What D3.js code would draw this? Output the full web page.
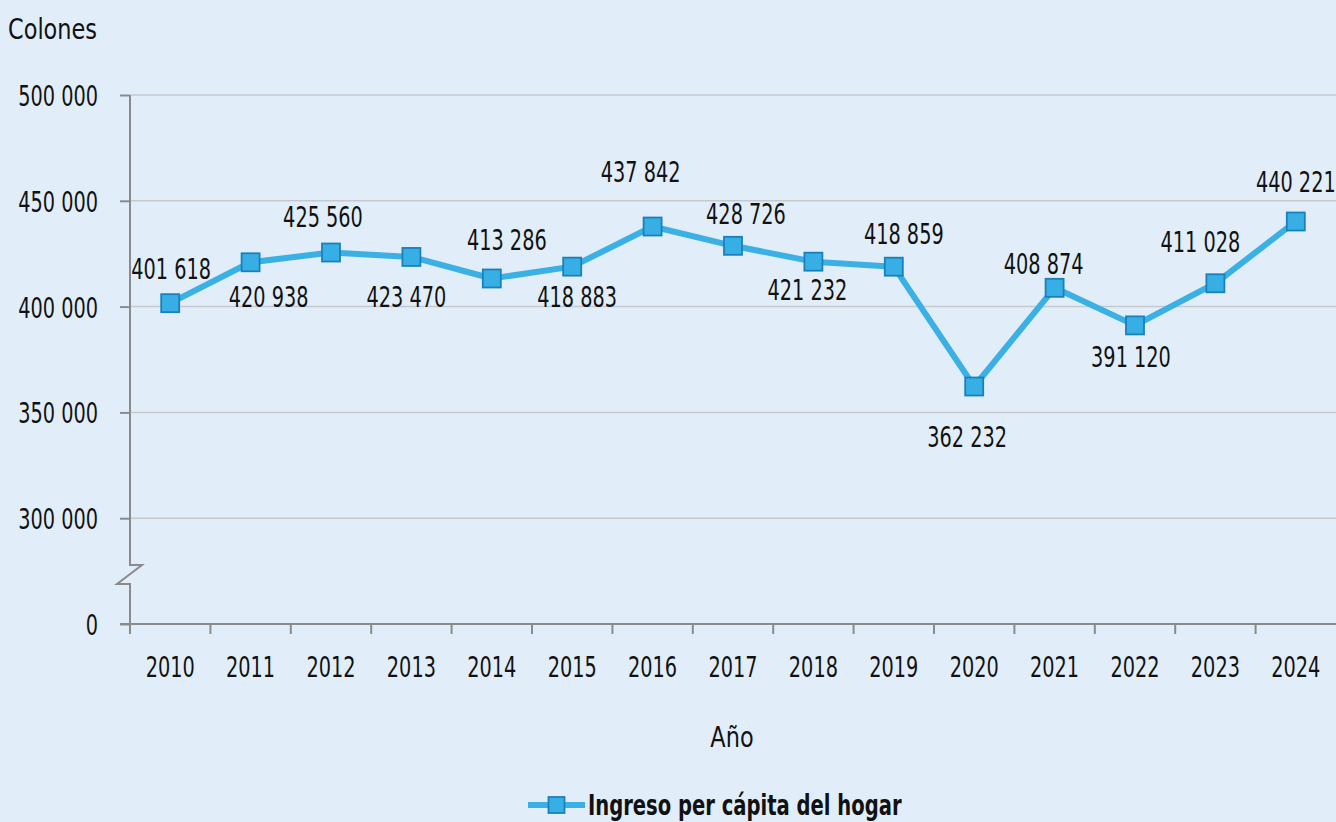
<!DOCTYPE html>
<html>
<head>
<meta charset="utf-8">
<script src="https://cdn.jsdelivr.net/npm/d3@7"></script>
<style>
  html, body { margin: 0; padding: 0; background: #e1eef9; }
  svg { display: block; }
  text { font-family: "DejaVu Sans Condensed", "DejaVu Sans", sans-serif; fill: #111; }
</style>
</head>
<body>
<svg id="chart" width="1336" height="822"></svg>
<script>
// ---- data ----
const years = ["2010","2011","2012","2013","2014","2015","2016","2017","2018","2019","2020","2021","2022","2023","2024"];
const income = [401618, 420938, 425560, 423470, 413286, 418883, 437842, 428726, 421232, 418859, 362232, 408874, 391120, 411028, 440221];
const yTickValues = [250000, 300000, 350000, 400000, 450000, 500000];
const yTickLabels = ["0", "300 000", "350 000", "400 000", "450 000", "500 000"];
const seriesName = "Ingreso per cápita del hogar";
const yTitle = "Colones";
const xTitle = "Año";
// label placement (layout, px offsets from the marker)
const labelDx = [1, 18, -8, -5, 15, 5, -12, 13, -6, 10, -7, -11, -4, -15, 0];
const labelDy = [-35, 34, -36, 40, -39, 30, -55, -32, 28, -33, 50, -24, 31, -42, -40];

const W = 1336, H = 822;
const m = { left: 130, right: 1336, top: 95, bottom: 624 };
const svg = d3.select("#chart");
svg.append("rect").attr("width", W).attr("height", H).attr("fill", "#e1eef9");

const fmt = v => d3.format(",")(v).replace(/,/g, " ");

const x = d3.scaleBand().domain(years).range([m.left, m.right]).padding(0);
const xc = d => x(d) + x.bandwidth() / 2;
const y = d3.scaleLinear().domain([250000, 500000]).range([m.bottom, m.top]);

const FS = 29;
const SX_NUM = 0.74, SX_WORD = 0.86, SX_BOLD = 0.75;
// place a text horizontally condensed
function place(sel, px, py, sx) {
  sel.attr("transform", `scale(${sx},1)`)
     .attr("x", typeof px === "function" ? (d, i) => px(d, i) / sx : px / sx)
     .attr("y", py);
  return sel;
}

// gridlines
svg.append("g").selectAll("line")
  .data(yTickValues.filter(v => v > 250000))
  .join("line")
  .attr("x1", m.left).attr("x2", m.right)
  .attr("y1", d => y(d)).attr("y2", d => y(d))
  .attr("stroke", "#c5c9cd").attr("stroke-width", 1.5);

// y axis with break
const axisColor = "#8a8a8a";
const yAxis = d3.axisLeft(y).tickValues(yTickValues).tickSize(10)
  .tickFormat((d, i) => yTickLabels[i]);
const gy = svg.append("g").attr("transform", `translate(${m.left},0)`).call(yAxis);
gy.select(".domain").remove();
gy.selectAll(".tick line").attr("stroke", axisColor).attr("stroke-width", 2);
gy.selectAll(".tick text").attr("dy", "0.36em")
  .style("font-size", FS + "px").style("font-family", null).attr("fill", "#111")
  .call(s => place(s, -32, 0, SX_NUM));

const brkTop = 565, brkBot = 584;
svg.append("path")
  .attr("d", `M${m.left},${m.top} V${brkTop} H${m.left + 12} L${m.left - 13},${brkBot} H${m.left} V${m.bottom}`)
  .attr("fill", "none").attr("stroke", axisColor).attr("stroke-width", 2).attr("stroke-linejoin", "miter");

// x axis
const xAxis = d3.axisBottom(x).tickSize(0).tickPadding(0);
const gx = svg.append("g").attr("transform", `translate(0,${m.bottom})`).call(xAxis);
gx.select(".domain").remove();
gx.selectAll(".tick text").attr("dy", "0.36em")
  .style("font-size", FS + "px").style("font-family", null).attr("fill", "#111")
  .call(s => place(s, 0, 43, SX_NUM));
svg.append("line").attr("x1", m.left - 10).attr("x2", m.right).attr("y1", m.bottom).attr("y2", m.bottom)
  .attr("stroke", axisColor).attr("stroke-width", 2);
const bounds = years.map(d => x(d));
svg.append("g").selectAll("line").data(bounds).join("line")
  .attr("x1", d => d).attr("x2", d => d).attr("y1", m.bottom).attr("y2", m.bottom + 10)
  .attr("stroke", axisColor).attr("stroke-width", 2);

// titles
svg.append("text").attr("dy", "0.36em").style("font-size", FS + "px").text(yTitle)
  .call(s => place(s, 8, 29, SX_WORD));
svg.append("text").attr("dy", "0.36em").attr("text-anchor", "middle")
  .style("font-size", FS + "px").text(xTitle)
  .call(s => place(s, 732, 737, SX_WORD));

// line
const lineColor = "#3ab0e4";
const markFill = "#38afe4", markStroke = "#1a80bd";
const pts = years.map((d, i) => ({ year: d, v: income[i], i }));
svg.append("path").datum(pts)
  .attr("d", d3.line().x(d => xc(d.year)).y(d => y(d.v)))
  .attr("fill", "none").attr("stroke", lineColor).attr("stroke-width", 6).attr("stroke-linejoin", "round");

const MS = 18;
svg.append("g").selectAll("rect").data(pts).join("rect")
  .attr("x", d => xc(d.year) - MS / 2).attr("y", d => y(d.v) - MS / 2)
  .attr("width", MS).attr("height", MS)
  .attr("fill", markFill).attr("stroke", markStroke).attr("stroke-width", 1.8);

// data labels
svg.append("g").selectAll("text").data(pts).join("text")
  .attr("dy", "0.36em").attr("text-anchor", "middle")
  .style("font-size", FS + "px")
  .text(d => fmt(d.v))
  .call(s => place(s, d => xc(d.year) + labelDx[d.i], d => y(d.v) + labelDy[d.i], SX_NUM));

// legend
const lg = svg.append("g");
const ly = 805;
lg.append("line").attr("x1", 528).attr("x2", 585).attr("y1", ly).attr("y2", ly)
  .attr("stroke", lineColor).attr("stroke-width", 6);
lg.append("rect").attr("x", 556.5 - 8).attr("y", ly - 8).attr("width", 16).attr("height", 16)
  .attr("fill", markFill).attr("stroke", markStroke).attr("stroke-width", 1.8);
lg.append("text").attr("dy", "0.36em")
  .style("font-size", FS + "px").style("font-weight", "bold").text(seriesName)
  .call(s => place(s, 588, ly, SX_BOLD));
</script>
</body>
</html>
